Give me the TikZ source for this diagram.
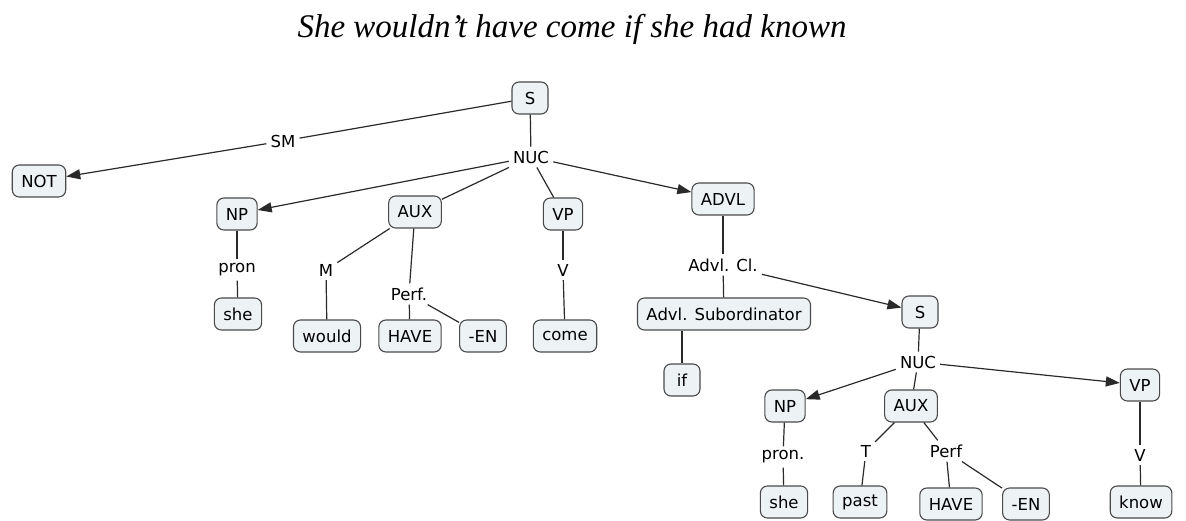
\documentclass[tikz,border=0pt]{standalone}
\usepackage{fontspec}
\setmainfont{DejaVu Sans}
\newfontfamily\titlefont{Liberation Serif}
\usetikzlibrary{arrows.meta}
\definecolor{boxfill}{HTML}{EDF2F5}
\definecolor{boxline}{HTML}{4A4A4A}
\definecolor{linkcol}{HTML}{2A2A2A}
\begin{document}
\begin{tikzpicture}[x=1pt,y=-1pt,
  concept/.style={draw=boxline,fill=boxfill,line width=1.1pt,rounded corners=7pt,
    minimum height=32pt,minimum width=36pt,inner xsep=9pt,
    font=\fontsize{16.5}{19}\selectfont},
  phrase/.style={inner sep=4pt,font=\fontsize{16.5}{19}\selectfont},
  link/.style={draw=linkcol,line width=1.2pt},
  arrowlink/.style={link,-{Triangle[length=14pt,width=10pt]}}]
\useasboundingbox (0,0) rectangle (1186,521);

% title
\node[anchor=base,font=\titlefont\itshape\fontsize{33}{40}\selectfont] (title) at (572,38)
  {She wouldn’t have come if she had known};

% main clause
\node[concept] (S) at (530,98) {S};
\node[phrase] (NUC) at (531,157) {NUC};
\node[phrase] (SM) at (283,141) {SM};
\node[concept] (NOT) at (39,181) {NOT};

\node[concept] (NP) at (237,214) {NP};
\node[phrase] (pron) at (237,270) {pron};
\node[concept] (she) at (238,314) {she};

\node[concept] (AUX) at (415,212) {AUX};
\node[phrase] (M) at (326,270) {M};
\node[phrase] (Perf) at (409,294) {Perf.};
\node[concept] (would) at (327,336) {would};
\node[concept] (HAVE) at (410,336) {HAVE};
\node[concept] (EN) at (483,336) {-EN};

\node[concept] (VP) at (563,214) {VP};
\node[phrase] (V) at (563,270) {V};
\node[concept] (come) at (565,336) {come};

\node[concept] (ADVL) at (723,199) {ADVL};
\node[phrase] (AdvlCl) at (723,265) {Advl. Cl.};
\node[concept] (Sub) at (724,314) {Advl. Subordinator};
\node[concept] (if) at (682,380) {if};

% subordinate clause
\node[concept] (S2) at (920,312) {S};
\node[phrase] (NUC2) at (918,362) {NUC};

\node[concept] (NP2) at (785,406) {NP};
\node[phrase] (pron2) at (783,457) {pron.};
\node[concept] (she2) at (784,502) {she};

\node[concept] (AUX2) at (911,406) {AUX};
\node[phrase] (T) at (866,451) {T};
\node[phrase] (Perf2) at (946,451) {Perf};
\node[concept] (past) at (860,502) {past};
\node[concept] (HAVE2) at (951,504) {HAVE};
\node[concept] (EN2) at (1026,504) {-EN};

\node[concept] (VP2) at (1140,385) {VP};
\node[phrase] (V2) at (1140,455) {V};
\node[concept] (know) at (1141,502) {know};

% connections, main clause
\draw[link] (S) -- (SM);
\draw[arrowlink] (SM) -- (NOT);
\draw[link] (S) -- (NUC);
\draw[arrowlink] (NUC) -- (NP);
\draw[link] (NUC) -- (AUX);
\draw[link] (NUC) -- (VP);
\draw[arrowlink] (NUC) -- (ADVL);
\draw[link] (NP) -- (pron);
\draw[link] (pron) -- (she);
\draw[link] (AUX) -- (M);
\draw[link] (M) -- (would);
\draw[link] (AUX) -- (Perf);
\draw[link] (Perf) -- (HAVE);
\draw[link] (Perf) -- (EN);
\draw[link] (VP) -- (V);
\draw[link] (V) -- (come);
\draw[link] (ADVL) -- (AdvlCl);
\draw[link] (AdvlCl) -- (Sub);
\draw[link] (Sub.south -| if) -- (if);
\draw[arrowlink] (AdvlCl) -- (S2);

% connections, subordinate clause
\draw[link] (S2) -- (NUC2);
\draw[arrowlink] (NUC2) -- (NP2);
\draw[link] (NUC2) -- (AUX2);
\draw[arrowlink] (NUC2) -- (VP2);
\draw[link] (NP2) -- (pron2);
\draw[link] (pron2) -- (she2);
\draw[link] (AUX2) -- (T);
\draw[link] (T) -- (past);
\draw[link] (AUX2) -- (Perf2);
\draw[link] (Perf2) -- (HAVE2);
\draw[link] (Perf2) -- (EN2);
\draw[link] (VP2) -- (V2);
\draw[link] (V2) -- (know);
\end{tikzpicture}
\end{document}
